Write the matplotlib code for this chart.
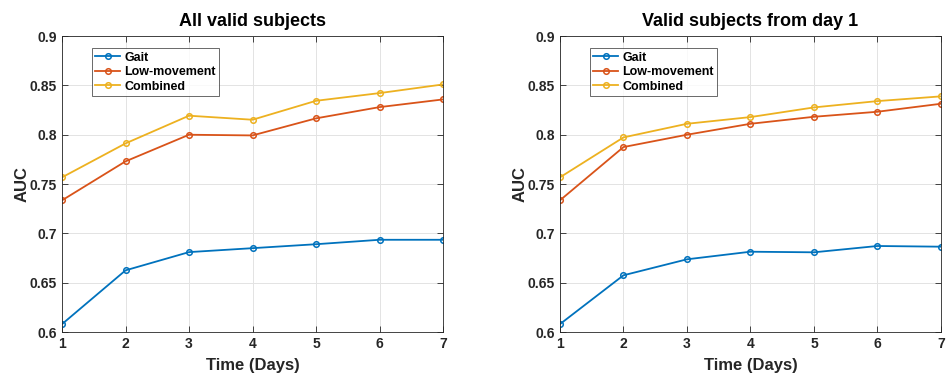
import matplotlib.pyplot as plt

plt.rcParams['font.family'] = ['Liberation Sans', 'DejaVu Sans']
plt.rcParams['font.weight'] = 'bold'

days = [1, 2, 3, 4, 5, 6, 7]
series_names = ['Gait', 'Low-movement', 'Combined']
colors = ['#0072BD', '#D95319', '#EDB120']

# All valid subjects
all_gait = [0.608, 0.6625, 0.681, 0.685, 0.689, 0.6935, 0.6935]
all_low = [0.7335, 0.773, 0.800, 0.7993, 0.8166, 0.828, 0.8358]
all_comb = [0.7568, 0.7912, 0.8193, 0.8152, 0.8344, 0.8422, 0.851]

# Valid subjects from day 1
day1_gait = [0.608, 0.6575, 0.6737, 0.6814, 0.6808, 0.6872, 0.6865]
day1_low = [0.7335, 0.7875, 0.800, 0.8111, 0.8182, 0.8233, 0.8314]
day1_comb = [0.7568, 0.7973, 0.8111, 0.8179, 0.8277, 0.8341, 0.8389]

yticks = [0.6, 0.65, 0.7, 0.75, 0.8, 0.85, 0.9]
ytick_labels = ['0.6', '0.65', '0.7', '0.75', '0.8', '0.85', '0.9']

panels = [
    ('All valid subjects', [all_gait, all_low, all_comb], 0.0655),
    ('Valid subjects from day 1', [day1_gait, day1_low, day1_comb], 0.5913),
]

fig = plt.figure(figsize=(9.47, 3.76), dpi=100)

for title, data, left in panels:
    ax = fig.add_axes([left, 0.117, 0.4023, 0.787])
    for name, vals, c in zip(series_names, data, colors):
        ax.plot(days, vals, color=c, linewidth=1.3, marker='o', markersize=4,
                markerfacecolor='none', markeredgewidth=1.1, label=name)
    ax.set_xlim(1, 7)
    ax.set_ylim(0.6, 0.9)
    ax.set_xticks(days)
    ax.set_yticks(yticks)
    ax.set_yticklabels(ytick_labels)
    ax.grid(True, color='#e3e3e3', linewidth=0.7)
    ax.set_axisbelow(True)
    ax.tick_params(direction='in', top=True, right=True, labelsize=10,
                   colors='#262626', length=4, width=0.6)
    for lab in ax.get_xticklabels() + ax.get_yticklabels():
        lab.set_fontweight('bold')
    for sp in ax.spines.values():
        sp.set_color('#262626')
        sp.set_linewidth(0.6)
    ax.set_title(title, fontsize=13, fontweight='bold', pad=7)
    ax.set_xlabel('Time (Days)', fontsize=12, fontweight='bold', color='#262626', labelpad=5)
    ax.set_ylabel('AUC', fontsize=12, fontweight='bold', color='#262626', labelpad=0)
    leg = ax.legend(loc='upper left', bbox_to_anchor=(0.078, 0.96), fontsize=9,
                    frameon=True, fancybox=False, edgecolor='#262626',
                    handlelength=2.0, handletextpad=0.3, borderpad=0.3,
                    labelspacing=0.2, borderaxespad=0)
    leg.get_frame().set_linewidth(0.6)
    for t in leg.get_texts():
        t.set_fontweight('bold')

fig.savefig('out.png', dpi=100)
